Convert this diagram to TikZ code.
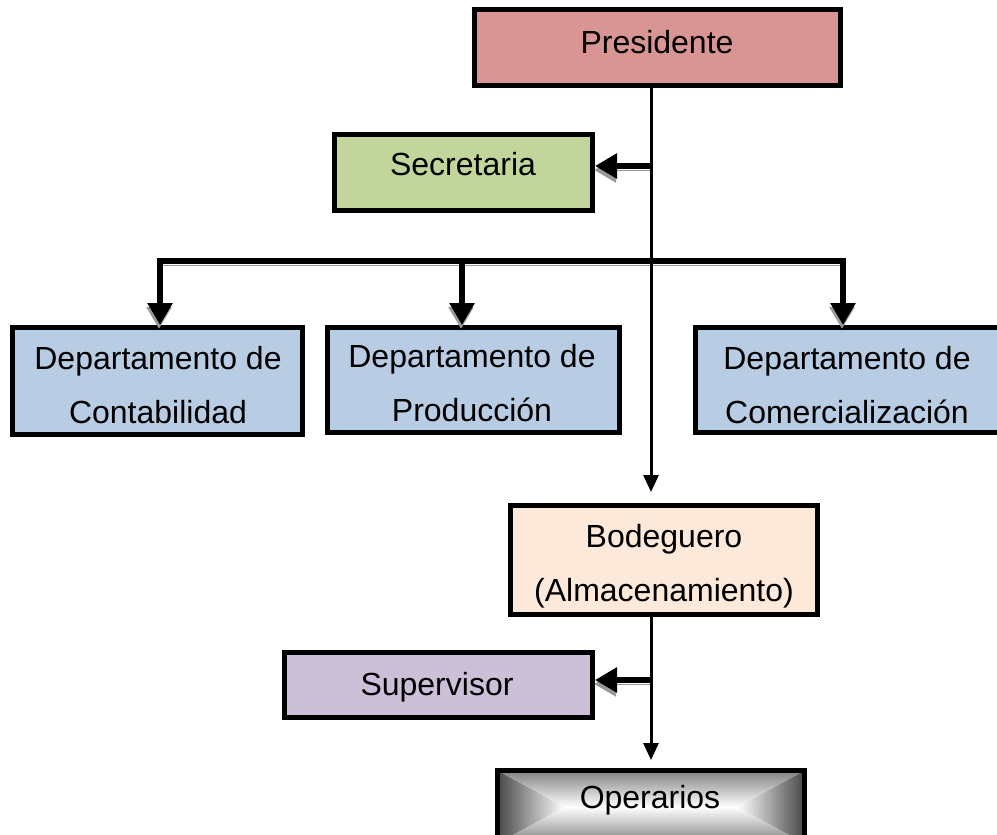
\documentclass[tikz,border=0pt]{standalone}
\usepackage{fontspec}
\setmainfont{Liberation Sans}
\usetikzlibrary{arrows.meta,fit}
\definecolor{presfill}{HTML}{D99594}
\definecolor{secfill}{HTML}{C2D69B}
\definecolor{deptfill}{HTML}{B8CCE4}
\definecolor{bodfill}{HTML}{FDE9D9}
\definecolor{supfill}{HTML}{CCC0D9}
\begin{document}
\begin{tikzpicture}[x=0.75pt,y=-0.75pt,
  box/.style={draw=black, line width=3.75pt, inner sep=0pt, rectangle},
  lbl/.style={font=\fontsize{24pt}{40.5pt}\selectfont, align=center, anchor=base, inner sep=0pt},
  thin link/.style={draw=black, line width=2.25pt, -{Triangle[length=12.75pt,width=11.25pt]}},
  thick link/.style={draw=black, line width=4.5pt, line join=miter,
    -{Triangle[length=16.5pt,width=18pt]},
    preaction={draw=black!40, transform canvas={shift={(-0.75pt,-3pt)}}}},
]
\useasboundingbox (0,0) rectangle (997,835);

% boxes
\node[box, fill=presfill, fit={(474.5,9.5) (840.5,85.5)}] (pres) {};
\node[box, fill=secfill, fit={(334.5,134.5) (592.5,210.5)}] (sec) {};
\node[box, fill=deptfill, fit={(12.5,327.5) (302.5,434.5)}] (cont) {};
\node[box, fill=deptfill, fit={(327.5,327.5) (619.5,432.5)}] (prod) {};
\node[box, fill=deptfill, fit={(695.5,327.5) (1000,432.5)}] (com) {};
\node[box, fill=bodfill, fit={(510.5,505.5) (817.5,614.5)}] (bod) {};
\node[box, fill=supfill, fit={(284.5,652.5) (592.5,717.5)}] (sup) {};

% Operarios: rectangular gradient, dark rim to white centre
\shade[left color=black!72, right color=white] (497.5,770.5) -- (565,807) -- (497.5,843.5) -- cycle;
\shade[left color=white, right color=black!72] (804.5,770.5) -- (737,807) -- (804.5,843.5) -- cycle;
\shade[top color=black!50, bottom color=white] (497.5,770.5) -- (804.5,770.5) -- (737,807) -- (565,807) -- cycle;
\shade[top color=white, bottom color=black!50] (565,807) -- (737,807) -- (804.5,843.5) -- (497.5,843.5) -- cycle;
\node[box, fit={(497.5,770.5) (804.5,843.5)}] (ops) {};

% labels (base anchor sits on the last line)
\node[lbl] (presT) at (657,53) {Presidente};
\node[lbl] (secT) at (463,175) {Secretaria};
\node[lbl] (contT) at (158,423) {Departamento de\\Contabilidad};
\node[lbl] (prodT) at (472,421) {Departamento de\\Producción};
\node[lbl] (comT) at (847,423) {Departamento de\\Comercialización};
\node[lbl] (bodT) at (664,601) {Bodeguero\\(Almacenamiento)};
\node[lbl] (supT) at (437,695) {Supervisor};
\node[lbl] (opsT) at (650,808) {Operarios};

% junction points
\coordinate (t) at (651,0);
\coordinate (secJ) at (651,166);
\coordinate (supJ) at (651,680);
\coordinate (busL) at (160,261);
\coordinate (busM) at (462,261);
\coordinate (busR) at (843,261);

% department bus
\draw[thick link, {Triangle[length=16.5pt,width=18pt]}-{Triangle[length=16.5pt,width=18pt]}]
  (cont.north -| busL) -- (busL) -- (busR) -- (com.north -| busR);
\draw[thick link] (busM) -- (prod.north -| busM);

% side branches
\draw[thick link] (secJ) -- (sec.east |- secJ);
\draw[thick link] (supJ) -- (sup.east |- supJ);

% main trunk
\draw[thin link, shorten >=8.25pt] (pres.south -| t) -- (bod.north -| t);
\draw[thin link, shorten >=6pt] (bod.south -| t) -- (ops.north -| t);
\end{tikzpicture}
\end{document}
